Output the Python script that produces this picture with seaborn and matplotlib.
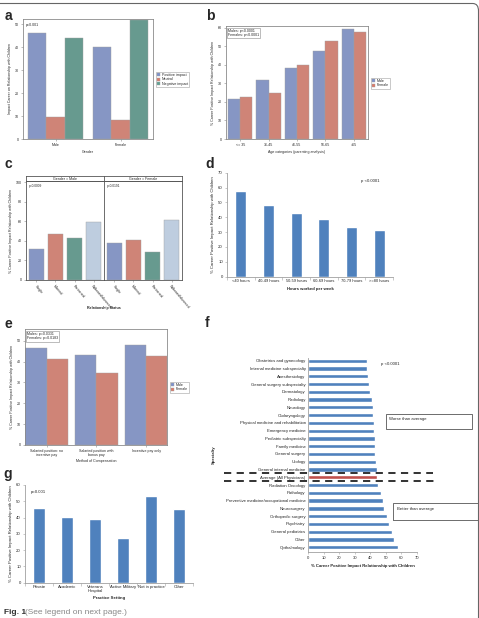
import matplotlib
matplotlib.use("Agg")
import matplotlib.pyplot as plt
import seaborn as sns
import pandas as pd
import numpy as np
from matplotlib.lines import Line2D
from matplotlib.patches import Rectangle, FancyBboxPatch, Patch

# ---------------- data ----------------
a_gender = ["Male", "Female"]
a_impacts = ["Positive impact", "Neutral", "Negative impact"]
a_pos = [46.2, 40.0]
a_neu = [9.6, 8.4]
a_neg = [44.1, 51.6]

b_ages = ["<= 35", "36-45", "46-55", "56-65", ">65"]
b_male = [21.7, 31.9, 38.3, 47.5, 59.3]
b_female = [22.7, 25.0, 40.0, 52.8, 57.7]

c_status = ["Single", "Married", "Partnered", "Widowed/divorced"]
c_male = [32.0, 46.8, 43.3, 59.7]
c_female = [37.9, 40.6, 28.3, 61.4]

d_hours = ["<40 hours", "40-49 hours", "50-59 hours", "60-69 hours", "70-79 hours", ">=80 hours"]
d_vals = [57.9, 48.3, 42.9, 39.0, 33.4, 31.6]

e_comp = ["Salaried position: no\nincentive pay", "Salaried position with\nbonus pay", "Incentive pay only"]
e_male = [46.6, 43.1, 47.9]
e_female = [41.3, 34.3, 42.8]

f_spec = ["Obstetrics and gynecology", "Internal medicine subspecialty", "Anesthesiology",
          "General surgery subspecialty", "Dermatology", "Radiology", "Neurology",
          "Otolaryngology", "Physical medicine and rehabilitation", "Emergency medicine",
          "Pediatric subspecialty", "Family medicine", "General surgery", "Urology",
          "General internal medicine", "Average (All Physicians)", "Radiation Oncology",
          "Pathology", "Preventive medicine/occupational medicine", "Neurosurgery",
          "Orthopedic surgery", "Psychiatry", "General pediatrics", "Other", "Opthalmology"]
f_vals = [37.7, 38.1, 38.3, 39.2, 39.8, 40.9, 41.8, 42.0, 42.2, 42.2, 43.3, 43.3, 43.3,
          43.9, 44.4, 44.4, 45.2, 46.7, 48.5, 49.1, 50.6, 51.9, 54.3, 55.1, 57.9]

g_settings = ["Private", "Academic", "Veterans\nHospital", "Active Military", "Not in practice", "Other"]
g_vals = [45.7, 40.2, 38.9, 27.6, 53.2, 45.5]

# ---------------- style ----------------
BLUE = "#7b91cf"
RED = "#de7a68"
GREEN = "#5ea394"
LBLUE = "#b8cce4"
XLBLUE = "#4f81bd"
XLRED = "#c0504d"
GRAY = "#8a8a8a"

W, H = 479, 618
sns.set_theme(style="white")
plt.rcParams['font.family'] = ['Liberation Sans', 'DejaVu Sans']
fig = plt.figure(figsize=(W / 100, H / 100), dpi=100)

def axpx(l, t, r, b):
    return fig.add_axes([l / W, 1 - b / H, (r - l) / W, (b - t) / H])

def fx(x):
    return x / W

def fy(y):
    return 1 - y / H

SAS_FS = 2.6
XL_FS = 3.1

def sas_style(ax):
    for s in ax.spines.values():
        s.set_visible(True)
        s.set_color(GRAY)
        s.set_linewidth(0.6)
    ax.tick_params(axis="both", labelsize=SAS_FS, length=1.5, width=0.4, color=GRAY, pad=1.5,
                   left=True, bottom=True)
    ax.grid(False)

def xl_style(ax):
    for k, s in ax.spines.items():
        s.set_visible(k in ("left", "bottom"))
        s.set_color("#a0a0a0")
        s.set_linewidth(0.6)
    ax.tick_params(axis="both", labelsize=XL_FS, length=1.5, width=0.4, color="#a0a0a0", pad=1.5,
                   left=True, bottom=True)
    ax.grid(False)

def panel_letter(x, y, s):
    fig.text(fx(x), fy(y), s, fontsize=10, fontweight="bold", ha="center", va="center",
             family=["Liberation Sans", "DejaVu Sans"])

# outer rounded frame (only top edge and right corner visible)
frame = FancyBboxPatch((fx(-12), fy(700)), fx(490.5), (700 - 3.5) / H,
                       boxstyle="round,pad=0,rounding_size=0.012", transform=fig.transFigure,
                       fill=False, edgecolor="#666666", linewidth=0.8)
fig.patches.append(frame)

# ---------------- panel a ----------------
ax = axpx(23, 19, 153, 139)
dfa = pd.DataFrame({"Gender": a_gender * 3,
                    "Impact": [a_impacts[0]] * 2 + [a_impacts[1]] * 2 + [a_impacts[2]] * 2,
                    "Value": a_pos + a_neu + a_neg})
sns.barplot(data=dfa, x="Gender", y="Value", hue="Impact", order=a_gender, hue_order=a_impacts,
            palette=[BLUE, RED, GREEN], width=0.85, gap=0, ax=ax, edgecolor="#a0a0a0",
            linewidth=0.3, legend=False)
ax.set_ylim(0, 52.2)
ax.set_xlim(-0.5, 1.5)
ax.set_yticks(range(0, 51, 10))
sas_style(ax)
ax.set_xlabel("Gender", fontsize=SAS_FS, labelpad=2)
ax.set_ylabel("Impact Career on Relationship with Children", fontsize=SAS_FS, labelpad=2)
ax.text(0.02, 0.97, "p<0.001", transform=ax.transAxes, fontsize=SAS_FS, va="top", ha="left")
handles = [Patch(facecolor=c, edgecolor="#a0a0a0", linewidth=0.3) for c in [BLUE, RED, GREEN]]
leg = fig.legend(handles, a_impacts, loc="upper left", bbox_to_anchor=(fx(156), fy(72)),
                 fontsize=SAS_FS, frameon=True, handlelength=0.9, handleheight=0.8,
                 handletextpad=0.4, borderpad=0.3, labelspacing=0.1, borderaxespad=0)
leg.get_frame().set_linewidth(0.4)
leg.get_frame().set_edgecolor(GRAY)
leg.get_frame().set_boxstyle("square", pad=0)
panel_letter(8.5, 16.5, "a")

# ---------------- panel b ----------------
ax = axpx(226, 26, 368, 139)
dfb = pd.DataFrame({"Age": b_ages * 2, "Sex": ["Male"] * 5 + ["Female"] * 5,
                    "Value": b_male + b_female})
sns.barplot(data=dfb, x="Age", y="Value", hue="Sex", order=b_ages, hue_order=["Male", "Female"],
            palette=[BLUE, RED], width=0.86, gap=0, ax=ax, edgecolor="#a0a0a0",
            linewidth=0.3, legend=False)
ax.set_ylim(0, 61)
ax.set_xlim(-0.5, 4.5)
ax.set_yticks(range(0, 61, 10))
sas_style(ax)
ax.set_xlabel("Age categories (parenting analysis)", fontsize=SAS_FS, labelpad=2)
ax.set_ylabel("% Career Positive Impact Relationship with Children", fontsize=SAS_FS, labelpad=2)
ax.text(0.015, 0.975, "Males: p<0.0001\nFemales: p<0.0001", transform=ax.transAxes,
        fontsize=SAS_FS, va="top", ha="left", linespacing=1.1,
        bbox=dict(boxstyle="square,pad=0.3", facecolor="white", edgecolor=GRAY, linewidth=0.4))
handles = [Patch(facecolor=c, edgecolor="#a0a0a0", linewidth=0.3) for c in [BLUE, RED]]
leg = fig.legend(handles, ["Male", "Female"], loc="upper left", bbox_to_anchor=(fx(371), fy(78)),
                 fontsize=SAS_FS, frameon=True, handlelength=0.9, handleheight=0.8,
                 handletextpad=0.4, borderpad=0.3, labelspacing=0.1, borderaxespad=0)
leg.get_frame().set_linewidth(0.4)
leg.get_frame().set_edgecolor(GRAY)
leg.get_frame().set_boxstyle("square", pad=0)
panel_letter(210, 16, "b")

# ---------------- panel c ----------------
c_pal = [BLUE, RED, GREEN, LBLUE]
for i, (vals, title, ptxt, (l, r)) in enumerate([
        (c_male, "Gender = Male", "p=0.0009", (26, 104)),
        (c_female, "Gender = Female", "p=0.0191", (104, 182))]):
    ax = axpx(l, 181, r, 280)
    dfc = pd.DataFrame({"Status": c_status, "Value": vals})
    sns.barplot(data=dfc, x="Status", y="Value", hue="Status", order=c_status,
                hue_order=c_status, palette=c_pal, width=0.82, ax=ax, edgecolor="#a0a0a0",
                linewidth=0.3, legend=False)
    ax.set_ylim(0, 101.5)
    ax.set_xlim(-0.55, 3.55)
    ax.set_yticks(range(0, 101, 20))
    sas_style(ax)
    ax.set_xlabel("")
    ax.set_ylabel("")
    ax.set_xticks(range(4))
    ax.set_xticklabels(c_status, rotation=-50, ha="left", rotation_mode="anchor", fontsize=SAS_FS)
    ax.text(0.03, 0.97, ptxt, transform=ax.transAxes, fontsize=SAS_FS * 0.9, va="top", ha="left")
    if i == 0:
        ax.set_ylabel("% Career Positive Impact Relationship with Children", fontsize=SAS_FS,
                      labelpad=2)
    else:
        ax.tick_params(axis="y", left=False, labelleft=False)
    for s in ax.spines.values():
        s.set_color("#555555")
    hax = axpx(l, 176, r, 181)
    hax.set_xticks([])
    hax.set_yticks([])
    hax.set_facecolor("white")
    for s in hax.spines.values():
        s.set_color("#555555")
        s.set_linewidth(0.6)
    hax.text(0.5, 0.5, title, transform=hax.transAxes, fontsize=SAS_FS, ha="center", va="center")
fig.text(fx(104), fy(308), "Relationship Status", fontsize=SAS_FS, fontweight="bold",
         ha="center", va="center")
panel_letter(8.5, 164.5, "c")

# ---------------- panel d ----------------
ax = axpx(227, 172.7, 393, 276.7)
dfd = pd.DataFrame({"Hours": d_hours, "Value": d_vals})
sns.barplot(data=dfd, x="Hours", y="Value", order=d_hours, color=XLBLUE, saturation=1,
            width=0.4, ax=ax)
ax.set_ylim(0, 70)
ax.set_xlim(-0.5, 5.5)
ax.set_yticks(range(0, 71, 10))
xl_style(ax)
ax.set_xticks(np.arange(-0.5, 6, 1), minor=True)
ax.tick_params(axis="x", which="major", length=0, labelsize=XL_FS * 0.92)
ax.tick_params(axis="x", which="minor", length=2, width=0.4, color="#a0a0a0", bottom=True)
ax.set_xlabel("Hours worked per week", fontsize=XL_FS, fontweight="bold", labelpad=2)
ax.set_ylabel("% Career Positive Impact Relationship with Children", fontsize=XL_FS, labelpad=2)
fig.text(fx(370), fy(180.7), "p <0.0001", fontsize=XL_FS, ha="center", va="center")
panel_letter(210, 164, "d")

# ---------------- panel e ----------------
ax = axpx(24.7, 329.3, 167, 445)
dfe = pd.DataFrame({"Comp": e_comp * 2, "Sex": ["Male"] * 3 + ["Female"] * 3,
                    "Value": e_male + e_female})
sns.barplot(data=dfe, x="Comp", y="Value", hue="Sex", order=e_comp, hue_order=["Male", "Female"],
            palette=[BLUE, RED], width=0.86, gap=0, ax=ax, edgecolor="#a0a0a0",
            linewidth=0.3, legend=False)
ax.set_ylim(0, 55.5)
ax.set_xlim(-0.44, 2.42)
ax.set_yticks(range(0, 51, 10))
sas_style(ax)
ax.tick_params(axis="x", labelsize=SAS_FS)
for t in ax.get_xticklabels():
    t.set_linespacing(1.0)
ax.set_xlabel("Method of Compensation", fontsize=SAS_FS, labelpad=1.5)
ax.set_ylabel("% Career Positive Impact Relationship with Children", fontsize=SAS_FS, labelpad=2)
ax.text(0.015, 0.975, "Males: p=0.0331\nFemales: p=0.0183", transform=ax.transAxes,
        fontsize=SAS_FS, va="top", ha="left", linespacing=1.1,
        bbox=dict(boxstyle="square,pad=0.3", facecolor="white", edgecolor=GRAY, linewidth=0.4))
handles = [Patch(facecolor=c, edgecolor="#a0a0a0", linewidth=0.3) for c in [BLUE, RED]]
leg = fig.legend(handles, ["Male", "Female"], loc="upper left", bbox_to_anchor=(fx(170), fy(382)),
                 fontsize=SAS_FS, frameon=True, handlelength=0.9, handleheight=0.8,
                 handletextpad=0.4, borderpad=0.3, labelspacing=0.1, borderaxespad=0)
leg.get_frame().set_linewidth(0.4)
leg.get_frame().set_edgecolor(GRAY)
leg.get_frame().set_boxstyle("square", pad=0)
panel_letter(8.5, 324, "e")

# ---------------- panel f ----------------
ax = axpx(308.3, 358, 416.7, 551.7)
dff = pd.DataFrame({"Specialty": f_spec, "Value": f_vals})
f_pal = {s: (XLRED if s.startswith("Average") else XLBLUE) for s in f_spec}
sns.barplot(data=dff, y="Specialty", x="Value", hue="Specialty", order=f_spec, hue_order=f_spec,
            palette=f_pal, saturation=1, orient="h", width=0.55, ax=ax, legend=False)
ax.set_xlim(0, 70)
ax.set_ylim(24.57, -0.35)
ax.set_xticks(range(0, 71, 10))
xl_style(ax)
ax.tick_params(axis="y", length=0, pad=2)
ax.tick_params(axis="x", labelsize=XL_FS * 0.95)
ax.set_xlabel("% Career Positive Impact Relationship with Children", fontsize=XL_FS,
              fontweight="bold", labelpad=3)
ax.set_ylabel("Specialty", fontsize=XL_FS, fontweight="bold", labelpad=2)
ax.yaxis.set_label_coords((216 - 308.3) / (416.7 - 308.3), 0.5)
fig.text(fx(381), fy(364), "p <0.0001", fontsize=XL_FS, ha="left", va="center")
for (x0, x1, y) in [(224, 433, 473), (224, 434.5, 481)]:
    fig.add_artist(Line2D([fx(x0), fx(x1)], [fy(y), fy(y)], transform=fig.transFigure,
                          color="#222222", linewidth=1.3, linestyle=(0, (4, 3))))
fig.add_artist(Rectangle((fx(385.7), fy(429)), fx(472.3) - fx(385.7), fy(414.3) - fy(429),
                         transform=fig.transFigure, fill=False, edgecolor="#333333", linewidth=0.5))
fig.text(fx(389), fy(419), "Worse than average", fontsize=XL_FS, ha="left", va="center")
fig.add_artist(Rectangle((fx(393.3), fy(520)), fx(485) - fx(393.3), fy(503.3) - fy(520),
                         transform=fig.transFigure, fill=False, edgecolor="#333333", linewidth=0.5))
fig.text(fx(397), fy(509), "Better than average", fontsize=XL_FS, ha="left", va="center")
panel_letter(207.5, 323, "f")

# ---------------- panel g ----------------
ax = axpx(25, 485, 193, 582.7)
dfg = pd.DataFrame({"Setting": g_settings, "Value": g_vals})
sns.barplot(data=dfg, x="Setting", y="Value", order=g_settings, color=XLBLUE, saturation=1,
            width=0.4, ax=ax)
ax.set_ylim(0, 60)
ax.set_xlim(-0.5, 5.5)
ax.set_yticks(range(0, 61, 10))
xl_style(ax)
ax.set_xticks(np.arange(-0.5, 6, 1), minor=True)
ax.tick_params(axis="x", which="major", length=0)
ax.tick_params(axis="x", which="minor", length=2, width=0.4, color="#a0a0a0", bottom=True)
for t in ax.get_xticklabels():
    t.set_linespacing(1.0)
ax.set_xlabel("Practice Setting", fontsize=XL_FS, fontweight="bold", labelpad=2)
ax.set_ylabel("% Career Positive Impact Relationship with Children", fontsize=XL_FS, labelpad=2)
ax.text(0.035, 0.93, "p=0.001", transform=ax.transAxes, fontsize=XL_FS, ha="left", va="center")
panel_letter(8, 474, "g")

# ---------------- caption ----------------
fig.text(fx(4.5), fy(613), "Fig. 1", fontsize=6, fontweight="bold", ha="left", va="center",
         color="#333333")
fig.text(fx(25), fy(613), "(See legend on next page.)", fontsize=6, ha="left", va="center",
         color="#888888")

fig.savefig("out.png", dpi=100)
